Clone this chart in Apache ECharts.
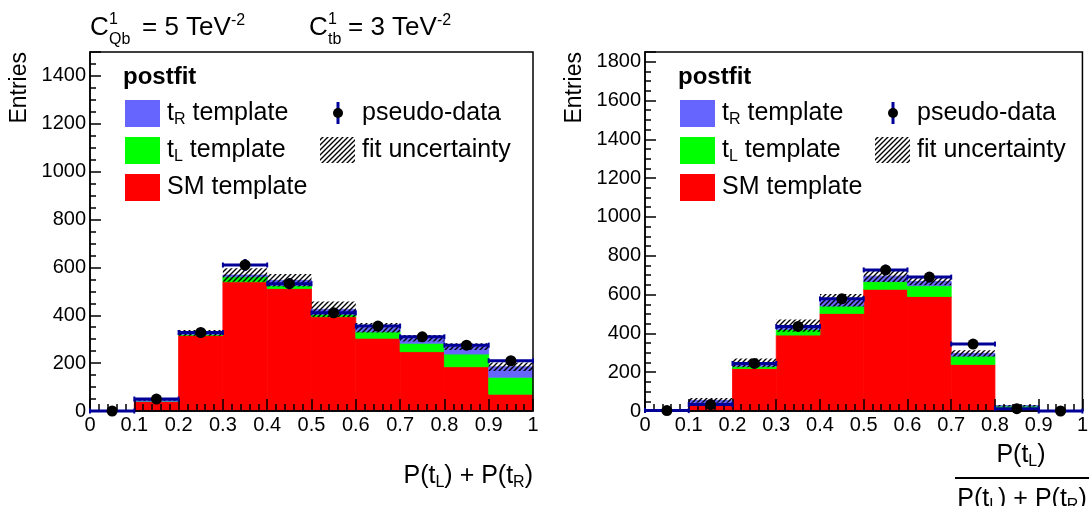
<!DOCTYPE html>
<html>
<head>
<meta charset="utf-8">
<script src="https://cdn.jsdelivr.net/npm/echarts@6/dist/echarts.min.js"></script>
<style>
html,body{margin:0;padding:0;background:#fff;}
#c{width:1091px;height:506px;}
</style>
</head>
<body>
<div id="c"></div>
<script>
// ---- data ----
const binLow  = [0, 0.1, 0.2, 0.3, 0.4, 0.5, 0.6, 0.7, 0.8, 0.9];
const binHigh = [0.1, 0.2, 0.3, 0.4, 0.5, 0.6, 0.7, 0.8, 0.9, 1.0];
const xTickLabels = ['0','0.1','0.2','0.3','0.4','0.5','0.6','0.7','0.8','0.9','1'];

// left panel: P(tL)+P(tR)
const smLeft   = [0, 40, 316, 540, 512, 394, 304, 248, 185, 70];
const tlLeft   = [0, 1, 4, 21, 12, 10, 27, 35, 53, 71];
const trLeft   = [0, 6, 6, 7, 22, 21, 17, 21, 31, 44];
const uncLeft  = [0, 4, 12, 28, 26, 32, 20, 14, 14, 18];
const dataLeft = [0, 50, 328, 610, 532, 410, 355, 310, 275, 210];
const errLeft  = [0, 7, 18, 25, 23, 20, 19, 18, 17, 14];

// right panel: P(tL)/(P(tL)+P(tR))
const smRight   = [3, 33, 219, 391, 503, 627, 590, 240, 14, 0];
const tlRight   = [0, 3, 12, 29, 38, 40, 56, 43, 12, 0];
const trRight   = [1, 19, 17, 20, 30, 28, 22, 14, 1, 0];
const uncRight  = [2, 12, 22, 32, 32, 30, 20, 16, 4, 0];
const dataRight = [2, 33, 245, 436, 578, 727, 690, 345, 12, 0];
const errRight  = [1, 6, 16, 21, 24, 27, 26, 19, 3, 0];

const yMaxLeft = 1500, yMaxRight = 1850;

// ---- styles ----
const FONT = 'Liberation Sans, Arial, Helvetica, sans-serif';
const C_RED = '#ff0000', C_GREEN = '#00ff00', C_BLUE = '#6666ff', C_ERR = '#000099';

function hatchCanvas() {
  const s = 5;
  const cv = document.createElement('canvas');
  cv.width = s; cv.height = s;
  const g = cv.getContext('2d');
  g.strokeStyle = '#000';
  g.lineWidth = 1.4;
  g.beginPath();
  g.moveTo(-1, s + 1); g.lineTo(s + 1, -1);
  g.moveTo(-s / 2 - 1, s / 2 + 1); g.lineTo(s / 2 + 1, -s / 2 - 1);
  g.moveTo(s / 2 - 1, s * 1.5 + 1); g.lineTo(s * 1.5 + 1, s / 2 - 1);
  g.stroke();
  return cv;
}
const hatchFill = { image: hatchCanvas(), repeat: 'repeat' };

function layerData(base, add) {
  return binLow.map((lo, i) => [lo, binHigh[i], base[i], base[i] + add[i]]);
}
function sumArr(...arrs) { return arrs[0].map((_, i) => arrs.reduce((s, a) => s + a[i], 0)); }

function rectRender(fill, solid) {
  return function (params, api) {
    const lo = api.value(0), hi = api.value(1), b = api.value(2), t = api.value(3);
    if (!(t > b)) return null;
    const p1 = api.coord([lo, t]), p2 = api.coord([hi, b]);
    const style = { fill: fill };
    if (solid) { style.stroke = fill; style.lineWidth = 0.8; }
    return { type: 'rect', shape: { x: p1[0], y: p1[1], width: p2[0] - p1[0], height: p2[1] - p1[1] }, style: style };
  };
}
function pointRender(params, api) {
  const lo = api.value(0), hi = api.value(1), v = api.value(2), e = api.value(3);
  const c = (lo + hi) / 2;
  const pl = api.coord([lo, v]), ph = api.coord([hi, v]), pc = api.coord([c, v]);
  const pt = api.coord([c, v + e]), pb = api.coord([c, v - e]);
  const ls = { stroke: C_ERR, lineWidth: 3 };
  const children = [
    { type: 'line', shape: { x1: pl[0], y1: pl[1], x2: ph[0], y2: ph[1] }, style: ls },
    { type: 'line', shape: { x1: pl[0], y1: pl[1] - 2.5, x2: pl[0], y2: pl[1] + 2.5 }, style: { stroke: C_ERR, lineWidth: 2 } },
    { type: 'line', shape: { x1: ph[0], y1: ph[1] - 2.5, x2: ph[0], y2: ph[1] + 2.5 }, style: { stroke: C_ERR, lineWidth: 2 } }
  ];
  if (e > 0) children.push({ type: 'line', shape: { x1: pt[0], y1: pt[1], x2: pb[0], y2: pb[1] }, style: ls });
  children.push({ type: 'circle', shape: { cx: pc[0], cy: pc[1], r: 5.5 }, style: { fill: '#000' } });
  return { type: 'group', children: children };
}

function panelSeries(idx, sm, tl, tr, unc, data, err) {
  const tot = sumArr(sm, tl, tr);
  const base2 = sumArr(sm, tl);
  const zeros = sm.map(() => 0);
  const common = { type: 'custom', xAxisIndex: idx, yAxisIndex: idx, silent: true, animation: false, clip: false, z: 2 };
  return [
    Object.assign({}, common, { name: 'SM', renderItem: rectRender(C_RED, true), data: layerData(zeros, sm) }),
    Object.assign({}, common, { name: 'tL', renderItem: rectRender(C_GREEN, true), data: layerData(sm, tl) }),
    Object.assign({}, common, { name: 'tR', renderItem: rectRender(C_BLUE, true), data: layerData(base2, tr) }),
    Object.assign({}, common, { name: 'unc', renderItem: rectRender(hatchFill, false),
      data: binLow.map((lo, i) => [lo, binHigh[i], tot[i] - unc[i], tot[i] + unc[i]]) }),
    Object.assign({}, common, { name: 'data', z: 20, renderItem: pointRender,
      data: binLow.map((lo, i) => [lo, binHigh[i], data[i], err[i]]) })
  ];
}

function xAxisCfg(idx) {
  return {
    type: 'value', gridIndex: idx, min: 0, max: 1, interval: 0.1, z: 10,
    axisLine: { show: true, onZero: false, lineStyle: { color: '#000', width: 1.5 } },
    axisTick: { show: true, inside: true, length: 12, lineStyle: { color: '#000', width: 1.5 } },
    minorTick: { show: true, splitNumber: 5, length: 7, lineStyle: { color: '#000', width: 1.5 } },
    splitLine: { show: false },
    axisLabel: { color: '#000', fontFamily: FONT, fontSize: 20, margin: 4,
      formatter: v => xTickLabels[Math.round(v * 10)] }
  };
}
function yAxisCfg(idx, max) {
  return {
    type: 'value', gridIndex: idx, min: 0, max: max, interval: 200, z: 10,
    axisLine: { show: true, lineStyle: { color: '#000', width: 1.5 } },
    axisTick: { show: true, inside: true, length: 11, lineStyle: { color: '#000', width: 1.5 } },
    minorTick: { show: true, splitNumber: 4, length: 6, lineStyle: { color: '#000', width: 1.5 } },
    splitLine: { show: false },
    axisLabel: { color: '#000', fontFamily: FONT, fontSize: 20, margin: 4, showMaxLabel: false,
      formatter: v => String(v) }
  };
}

const rich = {
  b: { fontFamily: FONT, fontSize: 25, lineHeight: 30, verticalAlign: 'middle', color: '#000' },
  sub: { fontFamily: FONT, fontSize: 16, lineHeight: 14, verticalAlign: 'bottom', color: '#000' },
  sup: { fontFamily: FONT, fontSize: 16, lineHeight: 14, verticalAlign: 'top', color: '#000' },
  tb: { fontFamily: FONT, fontSize: 26, lineHeight: 30, verticalAlign: 'middle', color: '#000' }
};
function txt(x, y, text, opts) {
  opts = opts || {};
  return { type: 'text', x: x, y: y, rotation: opts.rot || 0, silent: true, z: 50,
    style: Object.assign({ text: text, fontFamily: FONT, fontSize: opts.size || 25, fill: '#000',
      fontWeight: opts.bold ? 'bold' : 'normal',
      align: opts.align || 'left', verticalAlign: opts.va || 'middle' }, opts.rich ? { rich: rich } : {}) };
}

function legend(ox) {
  const els = [];
  els.push(txt(ox + 123, 77, 'postfit', { bold: true, size: 24 }));
  els.push({ type: 'rect', shape: { x: ox + 125, y: 100, width: 35, height: 27 }, style: { fill: C_BLUE } });
  els.push({ type: 'rect', shape: { x: ox + 125, y: 137, width: 35, height: 27 }, style: { fill: C_GREEN } });
  els.push({ type: 'rect', shape: { x: ox + 125, y: 174, width: 35, height: 27 }, style: { fill: C_RED } });
  els.push(txt(ox + 167, 113, '{b|t}{sub|R}{b| template}', { rich: true }));
  els.push(txt(ox + 167, 150, '{b|t}{sub|L}{b| template}', { rich: true }));
  els.push(txt(ox + 167, 187, 'SM template'));
  // pseudo-data marker
  els.push({ type: 'line', shape: { x1: ox + 338, y1: 102, x2: ox + 338, y2: 124 }, style: { stroke: C_ERR, lineWidth: 3 } });
  els.push({ type: 'circle', shape: { cx: ox + 338, cy: 113, r: 5 }, style: { fill: '#000' } });
  els.push(txt(ox + 362, 113, 'pseudo-data'));
  els.push({ type: 'rect', shape: { x: ox + 320, y: 137, width: 35, height: 26 }, style: { fill: hatchFill } });
  els.push(txt(ox + 362, 150, 'fit uncertainty'));
  return els;
}

const graphics = [].concat(
  legend(0), legend(555),
  [
    txt(20, 52, 'Entries', { rot: Math.PI / 2, align: 'right', size: 23 }),
    txt(575, 52, 'Entries', { rot: Math.PI / 2, align: 'right', size: 23 }),
    // top labels
    txt(90, 28, 'C', { size: 26 }),
    txt(109, 20, '1', { size: 16 }),
    txt(109, 40, 'Qb', { size: 16 }),
    txt(142, 28, '{tb|= 5 TeV}{sup|-2}', { rich: true }),
    txt(309, 28, 'C', { size: 26 }),
    txt(328, 20, '1', { size: 16 }),
    txt(328, 40, 'tb', { size: 16 }),
    txt(348, 28, '{tb|= 3 TeV}{sup|-2}', { rich: true }),
    // x titles
    txt(533, 476, '{b|P(t}{sub|L}{b|) + P(t}{sub|R}{b|)}', { rich: true, align: 'right' }),
    txt(1021, 455, '{b|P(t}{sub|L}{b|)}', { rich: true, align: 'center' }),
    { type: 'line', shape: { x1: 955, y1: 478, x2: 1089, y2: 478 }, style: { stroke: '#000', lineWidth: 2 } },
    txt(1022, 499, '{b|P(t}{sub|L}{b|) + P(t}{sub|R}{b|)}', { rich: true, align: 'center' })
  ]
);

const chart = echarts.init(document.getElementById('c'), null, { renderer: 'canvas' });
chart.setOption({
  animation: false,
  backgroundColor: '#fff',
  grid: [
    { left: 90, top: 52, width: 443, height: 359, show: true, borderColor: '#000', borderWidth: 1.5, backgroundColor: 'transparent', z: 10 },
    { left: 645, top: 52, width: 442, height: 359, show: true, borderColor: '#000', borderWidth: 1.5, backgroundColor: 'transparent', z: 10 }
  ],
  xAxis: [xAxisCfg(0), xAxisCfg(1)],
  yAxis: [yAxisCfg(0, yMaxLeft), yAxisCfg(1, yMaxRight)],
  series: [].concat(
    panelSeries(0, smLeft, tlLeft, trLeft, uncLeft, dataLeft, errLeft),
    panelSeries(1, smRight, tlRight, trRight, uncRight, dataRight, errRight)
  ),
  graphic: graphics
});
</script>
</body>
</html>
